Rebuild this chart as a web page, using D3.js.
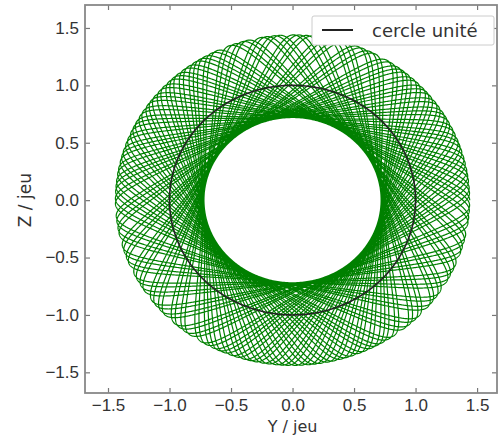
<!DOCTYPE html>
<html>
<head>
<meta charset="utf-8">
<script src="https://cdn.jsdelivr.net/npm/d3@7"></script>
<style>
  body { margin: 0; background: #fff; }
  svg { display: block; font-family: "DejaVu Sans", sans-serif; }
</style>
</head>
<body>
<svg></svg>
<script>
const width = 499;
const height = 436;

// axis extents and ticks (units of clearance, "jeu")
const yDomain = [-1.687, 1.662];
const zDomain = [-1.68, 1.70];
const tickValues = [-1.5, -1.0, -0.5, 0.0, 0.5, 1.0, 1.5];

// orbit: mean radius, whirl amplitude, whirl ratio, turns
const orbitRadii = [1.08, 0.36];
const orbitRatio = [1, -1.9137];
const orbitTurns = [52];
const unitRadius = [1];

const margin = { left: 85, right: 2, top: 5, bottom: 43 };

const svg = d3.select("svg")
  .attr("width", width)
  .attr("height", height);

const x = d3.scaleLinear().domain(yDomain).range([margin.left, width - margin.right]);
const y = d3.scaleLinear().domain(zDomain).range([height - margin.bottom, margin.top]);

svg.append("clipPath").attr("id", "clip")
  .append("rect")
  .attr("x", margin.left).attr("y", margin.top)
  .attr("width", width - margin.left - margin.right)
  .attr("height", height - margin.top - margin.bottom);

// build the orbit from its parameters
const nPts = 45000;
const orbit = d3.range(nPts + 1).map(i => {
  const t = i / nPts * 2 * Math.PI * orbitTurns[0];
  const a = orbitRatio[0] * t, b = orbitRatio[1] * t;
  return [orbitRadii[0] * Math.cos(a) + orbitRadii[1] * Math.cos(b),
          orbitRadii[0] * Math.sin(a) + orbitRadii[1] * Math.sin(b)];
});
const circle = d3.range(361).map(d => {
  const a = d * Math.PI / 180;
  return [unitRadius[0] * Math.cos(a), unitRadius[0] * Math.sin(a)];
});

const line = d3.line().x(d => x(d[0])).y(d => y(d[1]));

const plot = svg.append("g").attr("clip-path", "url(#clip)");

plot.append("path")
  .datum(orbit)
  .attr("d", line)
  .attr("fill", "none")
  .attr("stroke", "#008000")
  .attr("stroke-width", 1.2);

plot.append("path")
  .datum(circle)
  .attr("d", line)
  .attr("fill", "none")
  .attr("stroke", "#222")
  .attr("stroke-width", 1.6);

// axes with inward ticks on all four sides
const fontSize = 17;
const axB = svg.append("g").attr("transform", `translate(0,${height - margin.bottom})`)
  .call(d3.axisBottom(x).tickValues(tickValues).tickSize(-5).tickPadding(6).tickFormat(d3.format(".1f")));
const axT = svg.append("g").attr("transform", `translate(0,${margin.top})`)
  .call(d3.axisTop(x).tickValues(tickValues).tickSize(-5).tickFormat(""));
const axL = svg.append("g").attr("transform", `translate(${margin.left},0)`)
  .call(d3.axisLeft(y).tickValues(tickValues).tickSize(-5).tickPadding(6).tickFormat(d3.format(".1f")));
const axR = svg.append("g").attr("transform", `translate(${width - margin.right},0)`)
  .call(d3.axisRight(y).tickValues(tickValues).tickSize(-5).tickFormat(""));

[axB, axT, axL, axR].forEach(g => {
  g.select(".domain").remove();
  g.selectAll(".tick line").attr("stroke", "#777").attr("stroke-width", 1.2);
  g.selectAll(".tick text").attr("fill", "#333").attr("font-size", fontSize);
});

svg.append("rect")
  .attr("x", margin.left).attr("y", margin.top)
  .attr("width", width - margin.left - margin.right)
  .attr("height", height - margin.top - margin.bottom)
  .attr("fill", "none")
  .attr("stroke", "#888")
  .attr("stroke-width", 1.8);

svg.append("text")
  .attr("x", x(0)).attr("y", height - 4)
  .attr("text-anchor", "middle")
  .attr("font-size", 16).attr("fill", "#333")
  .text("Y / jeu");

svg.append("text")
  .attr("transform", `translate(31,${y(0)}) rotate(-90)`)
  .attr("text-anchor", "middle")
  .attr("font-size", 17).attr("fill", "#333")
  .text("Z / jeu");

// legend
const leg = svg.append("g");
leg.append("rect")
  .attr("x", 312).attr("y", 16).attr("width", 182).attr("height", 29)
  .attr("rx", 2)
  .attr("fill", "#fff").attr("stroke", "#ccc").attr("stroke-width", 1);
leg.append("line")
  .attr("x1", 322).attr("x2", 353).attr("y1", 30).attr("y2", 30)
  .attr("stroke", "#222").attr("stroke-width", 2);
leg.append("text")
  .attr("x", 372).attr("y", 37)
  .attr("font-size", 18).attr("fill", "#333")
  .text("cercle unité");
</script>
</body>
</html>
